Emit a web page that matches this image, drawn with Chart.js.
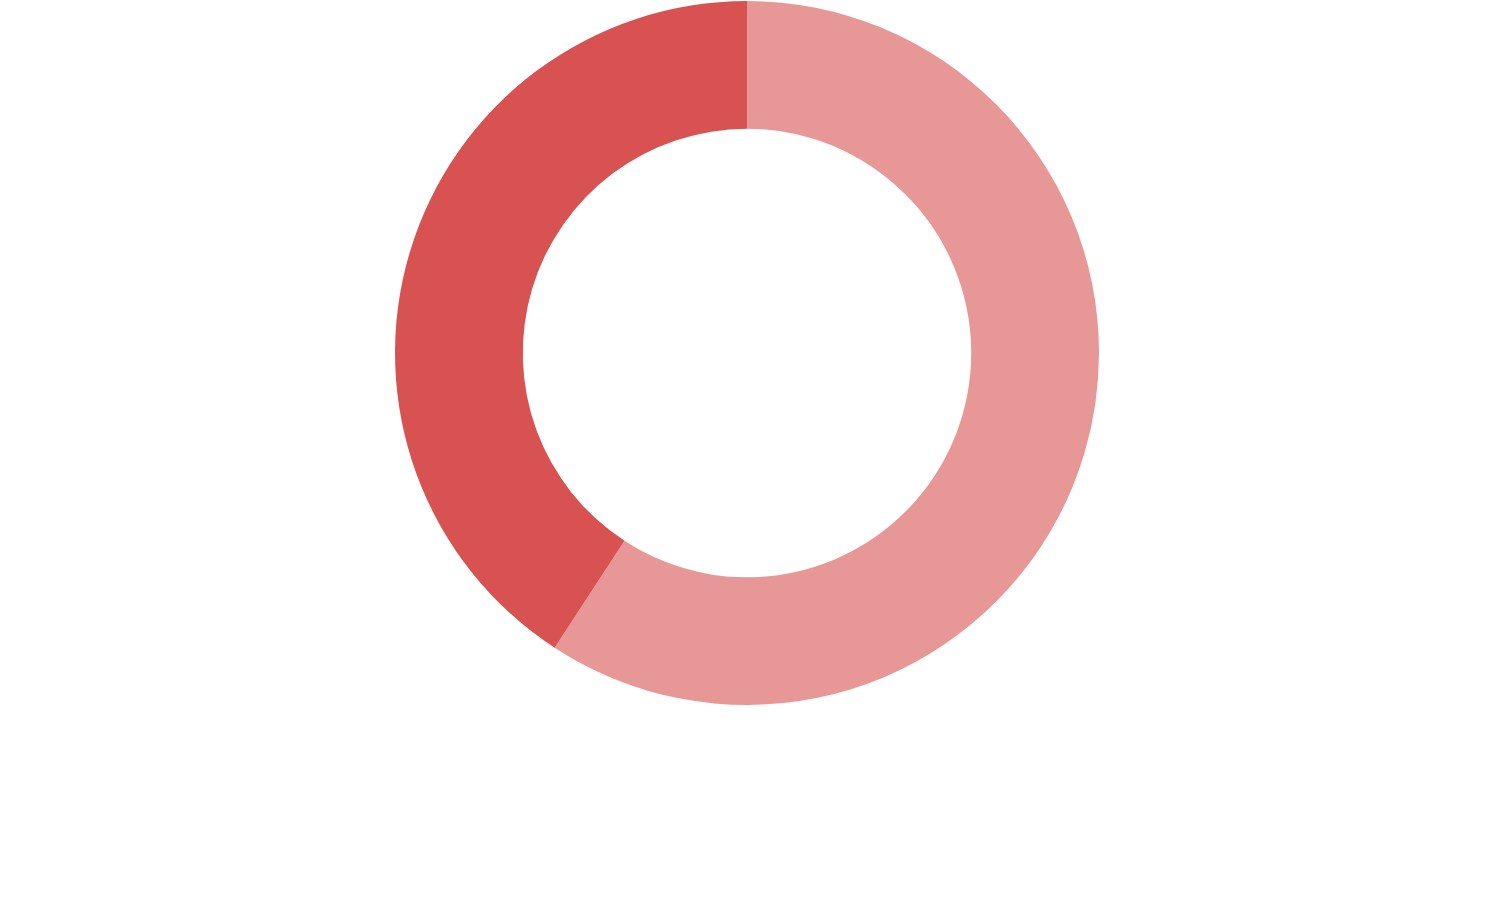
<!DOCTYPE html>
<html>
<head>
<meta charset="utf-8">
<script src="https://cdn.jsdelivr.net/npm/chart.js@4"></script>
<style>
html,body{margin:0;padding:0;background:#fff;}
#wrap{width:1497px;height:921px;position:relative;}
</style>
</head>
<body>
<div id="wrap"><canvas id="c"></canvas></div>
<script>
const categories = ["A", "B"];
const values = [59.2, 40.8];
const colors = ["#E89797", "#D95252"];

new Chart(document.getElementById('c'), {
  type: 'doughnut',
  data: {
    labels: categories,
    datasets: [{
      data: values,
      backgroundColor: colors,
      borderWidth: 0,
      hoverOffset: 0
    }]
  },
  options: {
    responsive: true,
    maintainAspectRatio: false,
    animation: false,
    cutout: '63.7%',
    layout: { padding: { top: 1, bottom: 216, left: 0, right: 3 } },
    plugins: {
      legend: { display: false },
      tooltip: { enabled: false }
    }
  }
});
</script>
</body>
</html>
